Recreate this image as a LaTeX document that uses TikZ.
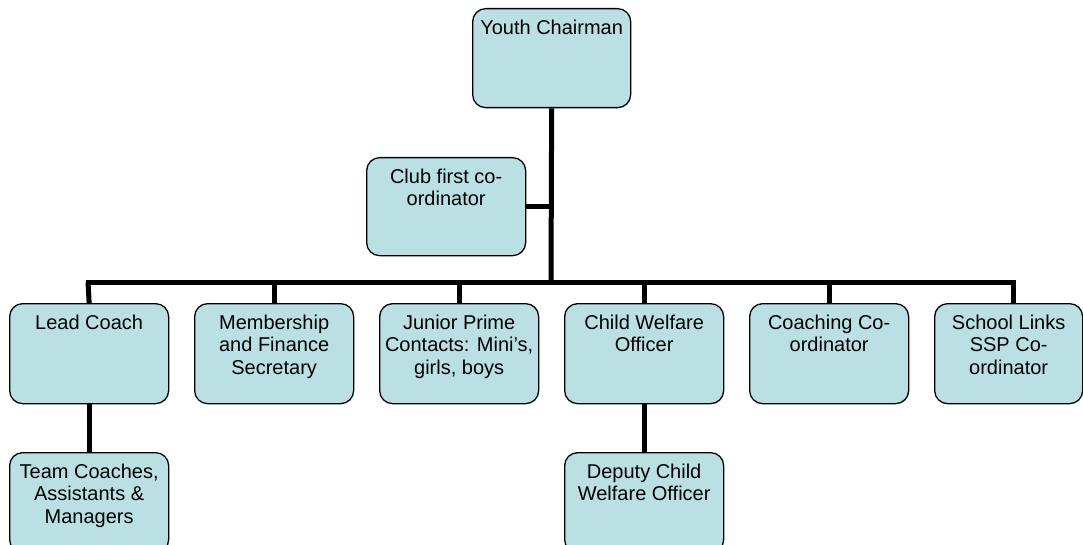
\documentclass[tikz,border=0pt]{standalone}
\usepackage{fontspec}
\setmainfont{Liberation Sans}
\definecolor{boxfill}{RGB}{186,224,228}
\newcommand\bxt[3]{\parbox[c][#2][t]{#1}{\centering\fontsize{20}{22.5}\selectfont\vspace*{10pt}\strut#3}}
\tikzset{
  orgbox/.style={draw=black, fill=boxfill, line width=1.3pt, rounded corners=13pt, inner sep=0pt, anchor=north west},
  conn/.style={line width=5pt, draw=black}
}
\begin{document}
\begin{tikzpicture}[x=1pt,y=-1pt]
\useasboundingbox (0,0) rectangle (1083,545);
\clip (0,0) rectangle (1083,545);
% connectors first (behind boxes)
\coordinate (busL) at (88,282);
\coordinate (busR) at (1013,282);
\coordinate (trunk) at (551,282);
\node[orgbox] (yc) at (472,8) {\bxt{158pt}{99pt}{Youth Chairman}};
\node[orgbox] (cf) at (366,157) {\bxt{159pt}{98pt}{Club first co-\\ordinator}};
\node[orgbox] (lc) at (9,303) {\bxt{159pt}{100pt}{Lead Coach}};
\node[orgbox] (mf) at (194,303) {\bxt{159pt}{100pt}{Membership\\and Finance\\Secretary}};
\node[orgbox] (jp) at (379,303) {\bxt{159pt}{100pt}{Junior Prime\\Contacts: Mini’s,\\girls, boys}};
\node[orgbox] (cw) at (564,303) {\bxt{159pt}{100pt}{Child Welfare\\Officer}};
\node[orgbox] (cc) at (749,303) {\bxt{159pt}{100pt}{Coaching Co-\\ordinator}};
\node[orgbox] (sl) at (934,303) {\bxt{148pt}{100pt}{School Links\\SSP Co-\\ordinator}};
\node[orgbox] (tc) at (9,452) {\bxt{159pt}{100pt}{Team Coaches,\\Assistants \&\\Managers}};
\node[orgbox] (dc) at (564,452) {\bxt{159pt}{100pt}{Deputy Child\\Welfare Officer}};
\begin{scope}[on background layer/.style={}]
\end{scope}
\draw[conn] (yc.south) -- (trunk);
\draw[conn] (cf.east) -- (cf.east -| yc.south);
\draw[conn, line cap=rect] (busL) -- (busR);
\draw[conn] (busL) -- (lc.north);
\draw[conn] (busL -| mf.north) -- (mf.north);
\draw[conn] (busL -| jp.north) -- (jp.north);
\draw[conn] (busL -| cw.north) -- (cw.north);
\draw[conn] (busL -| cc.north) -- (cc.north);
\draw[conn] (busR) -- (busR |- sl.north);
\draw[conn] (lc.south) -- (tc.north);
\draw[conn] (cw.south) -- (dc.north);
\end{tikzpicture}
\end{document}
